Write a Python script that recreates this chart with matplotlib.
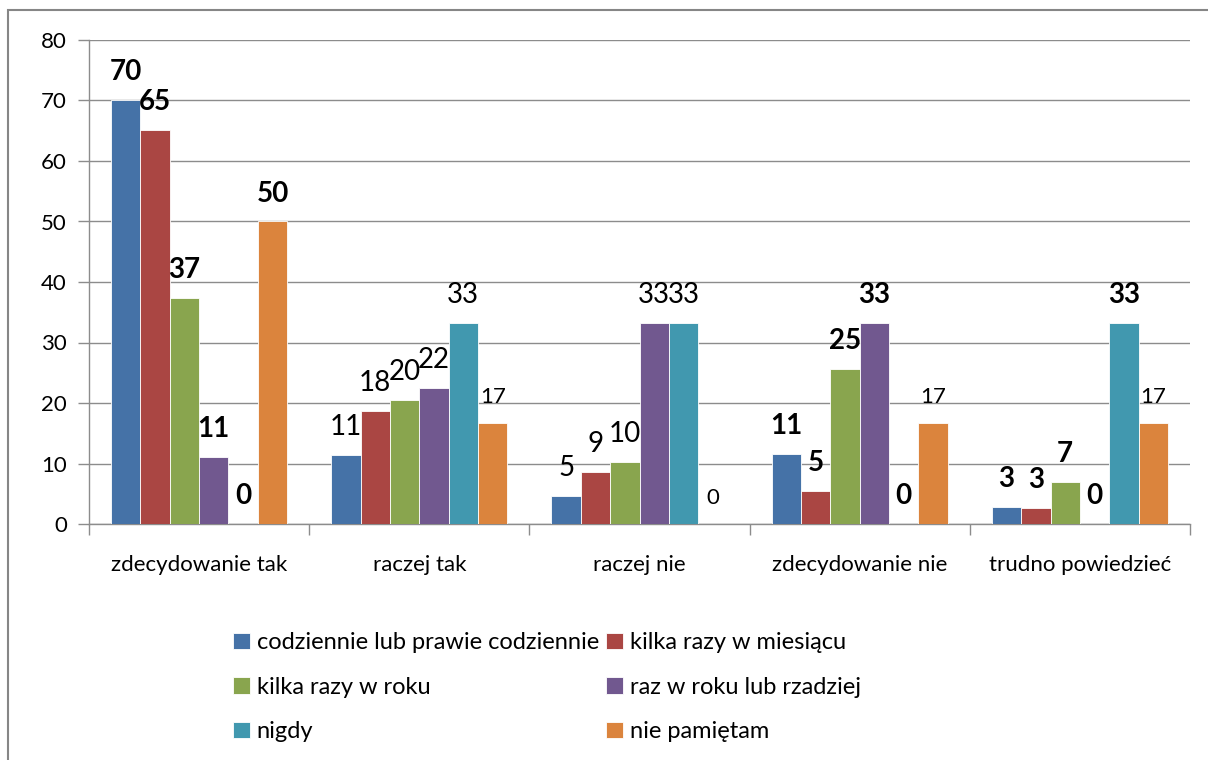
import matplotlib.pyplot as plt
import numpy as np
from matplotlib.patches import Rectangle

plt.rcParams['font.family'] = ['Lato', 'DejaVu Sans']

categories = ["zdecydowanie tak", "raczej tak", "raczej nie",
              "zdecydowanie nie", "trudno powiedzieć"]
series_names = ["codziennie lub prawie codziennie", "kilka razy w miesiącu",
                "kilka razy w roku", "raz w roku lub rzadziej",
                "nigdy", "nie pamiętam"]

# values per series, one per category
codziennie = [70.0, 11.4, 4.7, 11.5, 2.8]
kilka_miesiac = [65.2, 18.6, 8.6, 5.4, 2.6]
kilka_rok = [37.4, 20.5, 10.3, 25.6, 6.9]
raz_rok = [11.1, 22.4, 33.3, 33.3, 0.0]
nigdy = [0.0, 33.3, 33.3, 0.0, 33.3]
nie_pamietam = [50.0, 16.7, 0.0, 16.7, 16.7]
values = [codziennie, kilka_miesiac, kilka_rok, raz_rok, nigdy, nie_pamietam]

# labels as printed on the chart
labels = [
    ["70", "11", "5", "11", "3"],
    ["65", "18", "9", "5", "3"],
    ["37", "20", "10", "25", "7"],
    ["11", "22", "33", "33", "0"],
    ["0", "33", "33", "0", "33"],
    ["50", "17", "0", "17", "17"],
]

colors = ["#4572A7", "#AA4643", "#89A54E", "#71588F", "#4198AF", "#DB843D"]
bold_groups = {0, 3, 4}
small_labels = {(5, 1): 16, (5, 3): 16, (5, 4): 16, (5, 2): 16}

W, H = 1208, 760
fig = plt.figure(figsize=(W / 100, H / 100), dpi=100)
ax = fig.add_axes([89 / W, 1 - 524 / H, (1190 - 89) / W, (524 - 40) / H])

n = len(values)
bw = 0.8 / n
x = np.arange(len(categories))
handles = []
for j, (vals, col, name) in enumerate(zip(values, colors, series_names)):
    pos = x + (j - (n - 1) / 2) * bw
    bars = ax.bar(pos, vals, width=bw, color=col, label=name, edgecolor="white",
                  linewidth=0.6, zorder=3)
    handles.append(bars)
    for i, (p, v) in enumerate(zip(pos, vals)):
        size = small_labels.get((j, i), 20)
        weight = "bold" if (i in bold_groups and size == 20) else "normal"
        ax.annotate(labels[j][i], (p, v), xytext=(0, 20),
                    textcoords="offset pixels", ha="center", va="baseline",
                    fontsize=size, fontweight=weight, color="black", zorder=4)

ax.set_xlim(-0.5, len(categories) - 0.5)
ax.set_ylim(0, 80)
ax.set_yticks(np.arange(0, 81, 10))
ax.yaxis.grid(True, color="#8c8c8c", linewidth=1.0, zorder=0)
ax.set_axisbelow(True)

ax.set_xticks(x)
ax.set_xticklabels(categories, fontsize=16)
ax.set_xticks(np.arange(-0.5, len(categories), 1.0), minor=True)
ax.tick_params(axis="x", which="major", length=0, pad=22)
ax.tick_params(axis="x", which="minor", length=8, color="#8c8c8c", width=1)
ax.tick_params(axis="y", length=8, color="#8c8c8c", width=1, labelsize=16, pad=8)

for s in ["top", "right"]:
    ax.spines[s].set_visible(False)
for s in ["left", "bottom"]:
    ax.spines[s].set_color("#8c8c8c")
    ax.spines[s].set_linewidth(1.0)

# legend filled row by row: reorder for matplotlib's column-first layout
order = [0, 2, 4, 1, 3, 5]
fig.legend([handles[k] for k in order], [series_names[k] for k in order],
           loc="upper left", bbox_to_anchor=(212 / W, 1 - 611 / H), ncol=2,
           frameon=False, fontsize=17, handlelength=0.7, handleheight=0.7,
           handletextpad=0.3, labelspacing=1.0, columnspacing=0.3)

fig.patches.append(Rectangle((8 / W, -0.1), 1.2, 1 - 10 / H + 0.1,
                             transform=fig.transFigure, fill=False,
                             edgecolor="#868686", linewidth=1.5))

fig.savefig("out.png", dpi=100)
